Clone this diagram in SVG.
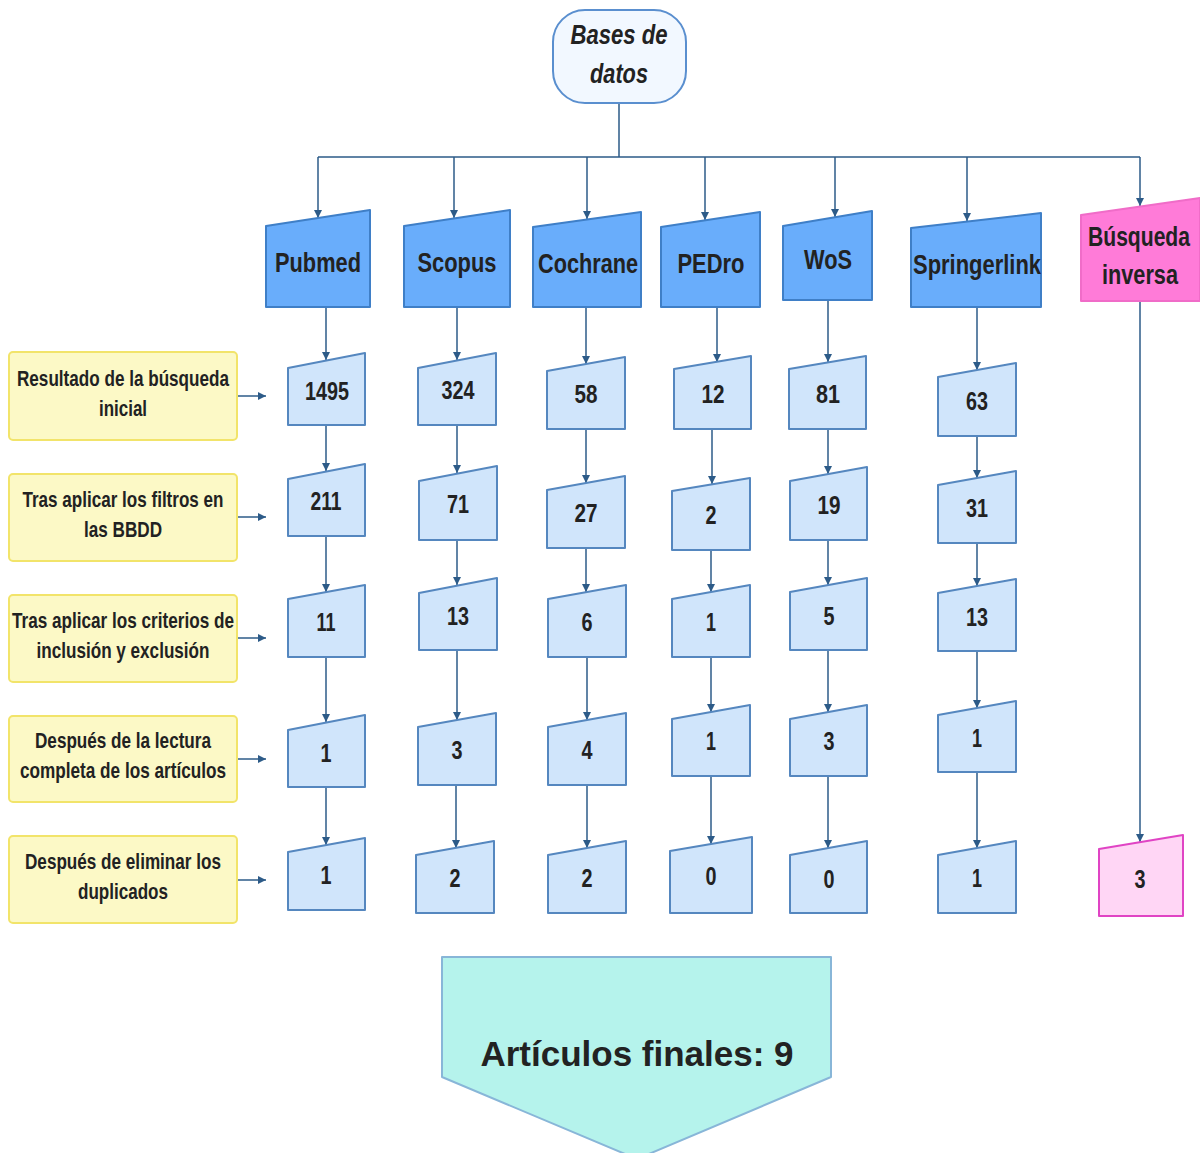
<svg xmlns="http://www.w3.org/2000/svg" width="1200" height="1153" viewBox="0 0 1200 1153">
<defs>
<marker id="ah" viewBox="0 0 10 10" refX="10" refY="5" markerWidth="8" markerHeight="8" markerUnits="userSpaceOnUse" orient="auto">
<path d="M0,0 L10,5 L0,10 Z" fill="#2d5b88"/>
</marker>
<style>
.c{fill:none;stroke:#2d5b88;stroke-width:1.5;}
.ca{fill:none;stroke:#2d5b88;stroke-width:1.5;marker-end:url(#ah);}
.hd{fill:#69adfb;stroke:#3f7fc7;stroke-width:2;stroke-linejoin:round;}
.nb{fill:#d0e5fb;stroke:#5587bf;stroke-width:2;stroke-linejoin:round;}
.lb{fill:#fcf9c6;stroke:#f2e46a;stroke-width:2;}
.pk{fill:#ff7bd8;stroke:#f06cc8;stroke-width:2;stroke-linejoin:round;}
.pn{fill:#ffd6f5;stroke:#e044c4;stroke-width:2;stroke-linejoin:round;}
text{font-family:"Liberation Sans",Arial,sans-serif;font-weight:bold;fill:#222;text-anchor:middle;}
.ht{font-size:28px;}
.nt{font-size:25px;}
.lt{font-size:22px;}
</style>
</defs>

<g id="connectors">
<path class="c" d="M619,103 V157 M318,157 H1140"/>
<path class="ca" d="M318,157 V218"/>
<path class="ca" d="M454,157 V218"/>
<path class="ca" d="M587,157 V219"/>
<path class="ca" d="M705,157 V220"/>
<path class="ca" d="M835,157 V217"/>
<path class="ca" d="M967,157 V221"/>
<path class="ca" d="M1140,157 V206"/>
<path class="ca" d="M326,307 V360"/>
<path class="ca" d="M326,425 V471"/>
<path class="ca" d="M326,536 V592"/>
<path class="ca" d="M326,657 V722"/>
<path class="ca" d="M326,787 V845"/>
<path class="ca" d="M457,307 V360"/>
<path class="ca" d="M457,425 V473"/>
<path class="ca" d="M457,540 V585"/>
<path class="ca" d="M457,650 V720"/>
<path class="ca" d="M456,785 V848"/>
<path class="ca" d="M586,307 V364"/>
<path class="ca" d="M586,429 V483"/>
<path class="ca" d="M586,548 V592"/>
<path class="ca" d="M587,657 V720"/>
<path class="ca" d="M587,785 V848"/>
<path class="ca" d="M717,307 V362"/>
<path class="ca" d="M712,429 V484"/>
<path class="ca" d="M711,550 V592"/>
<path class="ca" d="M711,657 V712"/>
<path class="ca" d="M711,776 V844"/>
<path class="ca" d="M828,300 V362"/>
<path class="ca" d="M828,429 V474"/>
<path class="ca" d="M828,540 V585"/>
<path class="ca" d="M828,650 V712"/>
<path class="ca" d="M828,776 V848"/>
<path class="ca" d="M977,307 V370"/>
<path class="ca" d="M977,436 V478"/>
<path class="ca" d="M977,543 V586"/>
<path class="ca" d="M977,651 V708"/>
<path class="ca" d="M977,772 V848"/>
<path class="ca" d="M1140,301 V842"/>
<path class="ca" d="M238,396 H266"/>
<path class="ca" d="M238,517 H266"/>
<path class="ca" d="M238,638 H266"/>
<path class="ca" d="M238,759 H266"/>
<path class="ca" d="M238,880 H266"/>
</g>

<g id="bases">
<rect x="553" y="10" width="133" height="93" rx="32" fill="#f2f8ff" stroke="#5a8fcf" stroke-width="2"/>
<text x="619" y="44" font-size="27" font-style="italic" textLength="97" lengthAdjust="spacingAndGlyphs">Bases de</text>
<text x="619" y="83" font-size="27" font-style="italic" textLength="58" lengthAdjust="spacingAndGlyphs">datos</text>
</g>

<g id="h-pubmed"><path class="hd" d="M266,226 L370,210 L370,307 L266,307 Z"/><text class="ht" x="318" y="272" textLength="86" lengthAdjust="spacingAndGlyphs">Pubmed</text></g>
<g id="h-scopus"><path class="hd" d="M404,226 L510,210 L510,307 L404,307 Z"/><text class="ht" x="457" y="272" textLength="79" lengthAdjust="spacingAndGlyphs">Scopus</text></g>
<g id="h-cochrane"><path class="hd" d="M533,227 L641,212 L641,307 L533,307 Z"/><text class="ht" x="588" y="273" textLength="100" lengthAdjust="spacingAndGlyphs">Cochrane</text></g>
<g id="h-pedro"><path class="hd" d="M661,227 L760,212 L760,307 L661,307 Z"/><text class="ht" x="711" y="273" textLength="67" lengthAdjust="spacingAndGlyphs">PEDro</text></g>
<g id="h-wos"><path class="hd" d="M783,226 L872,211 L872,300 L783,300 Z"/><text class="ht" x="828" y="269" textLength="48" lengthAdjust="spacingAndGlyphs">WoS</text></g>
<g id="h-springer"><path class="hd" d="M911,228 L1041,213 L1041,307 L911,307 Z"/><text class="ht" x="977" y="274" textLength="128" lengthAdjust="spacingAndGlyphs">Springerlink</text></g>
<g id="h-busqueda"><path class="pk" d="M1081,215 L1200,198 L1200,301 L1081,301 Z"/><text class="ht" x="1139" y="246" textLength="102" lengthAdjust="spacingAndGlyphs">Búsqueda</text><text class="ht" x="1140" y="284" textLength="76" lengthAdjust="spacingAndGlyphs">inversa</text></g>

<g id="l1"><rect class="lb" x="9" y="352" width="228" height="88" rx="4"/><text class="lt" x="123" y="386" textLength="212" lengthAdjust="spacingAndGlyphs">Resultado de la búsqueda</text><text class="lt" x="123" y="416" textLength="48" lengthAdjust="spacingAndGlyphs">inicial</text></g>
<g id="l2"><rect class="lb" x="9" y="474" width="228" height="87" rx="4"/><text class="lt" x="123" y="507" textLength="201" lengthAdjust="spacingAndGlyphs">Tras aplicar los filtros en</text><text class="lt" x="123" y="537" textLength="78" lengthAdjust="spacingAndGlyphs">las BBDD</text></g>
<g id="l3"><rect class="lb" x="9" y="595" width="228" height="87" rx="4"/><text class="lt" x="123" y="628" textLength="222" lengthAdjust="spacingAndGlyphs">Tras aplicar los criterios de</text><text class="lt" x="123" y="658" textLength="173" lengthAdjust="spacingAndGlyphs">inclusión y exclusión</text></g>
<g id="l4"><rect class="lb" x="9" y="716" width="228" height="86" rx="4"/><text class="lt" x="123" y="748" textLength="176" lengthAdjust="spacingAndGlyphs">Después de la lectura</text><text class="lt" x="123" y="778" textLength="206" lengthAdjust="spacingAndGlyphs">completa de los artículos</text></g>
<g id="l5"><rect class="lb" x="9" y="836" width="228" height="87" rx="4"/><text class="lt" x="123" y="869" textLength="196" lengthAdjust="spacingAndGlyphs">Después de eliminar los</text><text class="lt" x="123" y="899" textLength="90" lengthAdjust="spacingAndGlyphs">duplicados</text></g>

<g id="pubmed-nodes">
<g id="p1"><path class="nb" d="M288,368 L365,353 L365,425 L288,425 Z"/><text class="nt" x="327" y="400" textLength="44" lengthAdjust="spacingAndGlyphs">1495</text></g>
<g id="p2"><path class="nb" d="M288,479 L365,464 L365,536 L288,536 Z"/><text class="nt" x="326" y="510" textLength="31" lengthAdjust="spacingAndGlyphs">211</text></g>
<g id="p3"><path class="nb" d="M288,599 L365,585 L365,657 L288,657 Z"/><text class="nt" x="326" y="631" textLength="19" lengthAdjust="spacingAndGlyphs">11</text></g>
<g id="p4"><path class="nb" d="M288,730 L365,715 L365,787 L288,787 Z"/><text class="nt" x="326" y="762" textLength="11" lengthAdjust="spacingAndGlyphs">1</text></g>
<g id="p5"><path class="nb" d="M288,852 L365,838 L365,910 L288,910 Z"/><text class="nt" x="326" y="884" textLength="11" lengthAdjust="spacingAndGlyphs">1</text></g>
</g>
<g id="scopus-nodes">
<g id="s1"><path class="nb" d="M418,368 L496,353 L496,425 L418,425 Z"/><text class="nt" x="458" y="399" textLength="33" lengthAdjust="spacingAndGlyphs">324</text></g>
<g id="s2"><path class="nb" d="M419,481 L497,466 L497,540 L419,540 Z"/><text class="nt" x="458" y="513" textLength="22" lengthAdjust="spacingAndGlyphs">71</text></g>
<g id="s3"><path class="nb" d="M419,593 L497,578 L497,650 L419,650 Z"/><text class="nt" x="458" y="625" textLength="22" lengthAdjust="spacingAndGlyphs">13</text></g>
<g id="s4"><path class="nb" d="M418,727 L496,713 L496,785 L418,785 Z"/><text class="nt" x="457" y="759" textLength="11" lengthAdjust="spacingAndGlyphs">3</text></g>
<g id="s5"><path class="nb" d="M416,855 L494,841 L494,913 L416,913 Z"/><text class="nt" x="455" y="887" textLength="11" lengthAdjust="spacingAndGlyphs">2</text></g>
</g>
<g id="cochrane-nodes">
<g id="c1"><path class="nb" d="M547,371 L625,357 L625,429 L547,429 Z"/><text class="nt" x="586" y="403" textLength="23" lengthAdjust="spacingAndGlyphs">58</text></g>
<g id="c2"><path class="nb" d="M547,490 L625,476 L625,548 L547,548 Z"/><text class="nt" x="586" y="522" textLength="23" lengthAdjust="spacingAndGlyphs">27</text></g>
<g id="c3"><path class="nb" d="M548,599 L626,585 L626,657 L548,657 Z"/><text class="nt" x="587" y="631" textLength="11" lengthAdjust="spacingAndGlyphs">6</text></g>
<g id="c4"><path class="nb" d="M548,727 L626,713 L626,785 L548,785 Z"/><text class="nt" x="587" y="759" textLength="11" lengthAdjust="spacingAndGlyphs">4</text></g>
<g id="c5"><path class="nb" d="M548,855 L626,841 L626,913 L548,913 Z"/><text class="nt" x="587" y="887" textLength="11" lengthAdjust="spacingAndGlyphs">2</text></g>
</g>
<g id="pedro-nodes">
<g id="e1"><path class="nb" d="M674,369 L751,356 L751,429 L674,429 Z"/><text class="nt" x="713" y="403" textLength="23" lengthAdjust="spacingAndGlyphs">12</text></g>
<g id="e2"><path class="nb" d="M672,491 L750,478 L750,550 L672,550 Z"/><text class="nt" x="711" y="524" textLength="11" lengthAdjust="spacingAndGlyphs">2</text></g>
<g id="e3"><path class="nb" d="M672,599 L750,585 L750,657 L672,657 Z"/><text class="nt" x="711" y="631" textLength="10" lengthAdjust="spacingAndGlyphs">1</text></g>
<g id="e4"><path class="nb" d="M672,719 L750,705 L750,776 L672,776 Z"/><text class="nt" x="711" y="750" textLength="10" lengthAdjust="spacingAndGlyphs">1</text></g>
<g id="e5"><path class="nb" d="M670,851 L752,837 L752,913 L670,913 Z"/><text class="nt" x="711" y="885" textLength="11" lengthAdjust="spacingAndGlyphs">0</text></g>
</g>
<g id="wos-nodes">
<g id="w1"><path class="nb" d="M789,369 L866,356 L866,429 L789,429 Z"/><text class="nt" x="828" y="403" textLength="24" lengthAdjust="spacingAndGlyphs">81</text></g>
<g id="w2"><path class="nb" d="M790,481 L867,467 L867,540 L790,540 Z"/><text class="nt" x="829" y="514" textLength="23" lengthAdjust="spacingAndGlyphs">19</text></g>
<g id="w3"><path class="nb" d="M790,592 L867,578 L867,650 L790,650 Z"/><text class="nt" x="829" y="625" textLength="11" lengthAdjust="spacingAndGlyphs">5</text></g>
<g id="w4"><path class="nb" d="M790,719 L867,705 L867,776 L790,776 Z"/><text class="nt" x="829" y="750" textLength="11" lengthAdjust="spacingAndGlyphs">3</text></g>
<g id="w5"><path class="nb" d="M790,855 L867,841 L867,913 L790,913 Z"/><text class="nt" x="829" y="888" textLength="11" lengthAdjust="spacingAndGlyphs">0</text></g>
</g>
<g id="springer-nodes">
<g id="g1"><path class="nb" d="M938,377 L1016,363 L1016,436 L938,436 Z"/><text class="nt" x="977" y="410" textLength="22" lengthAdjust="spacingAndGlyphs">63</text></g>
<g id="g2"><path class="nb" d="M938,485 L1016,471 L1016,543 L938,543 Z"/><text class="nt" x="977" y="517" textLength="22" lengthAdjust="spacingAndGlyphs">31</text></g>
<g id="g3"><path class="nb" d="M938,593 L1016,579 L1016,651 L938,651 Z"/><text class="nt" x="977" y="626" textLength="22" lengthAdjust="spacingAndGlyphs">13</text></g>
<g id="g4"><path class="nb" d="M938,715 L1016,701 L1016,772 L938,772 Z"/><text class="nt" x="977" y="747" textLength="10" lengthAdjust="spacingAndGlyphs">1</text></g>
<g id="g5"><path class="nb" d="M938,855 L1016,841 L1016,913 L938,913 Z"/><text class="nt" x="977" y="887" textLength="10" lengthAdjust="spacingAndGlyphs">1</text></g>
</g>
<g id="inversa-node"><path class="pn" d="M1099,849 L1183,835 L1183,916 L1099,916 Z"/><text class="nt" x="1140" y="888" textLength="11" lengthAdjust="spacingAndGlyphs">3</text></g>

<g id="final">
<path d="M442,957 H831 V1077 L637,1159 L442,1077 Z" fill="#b5f3ec" stroke="#88b6d8" stroke-width="2" stroke-linejoin="round"/>
<text x="637" y="1066" style="font-size:35px;">Artículos finales: 9</text>
</g>
</svg>
